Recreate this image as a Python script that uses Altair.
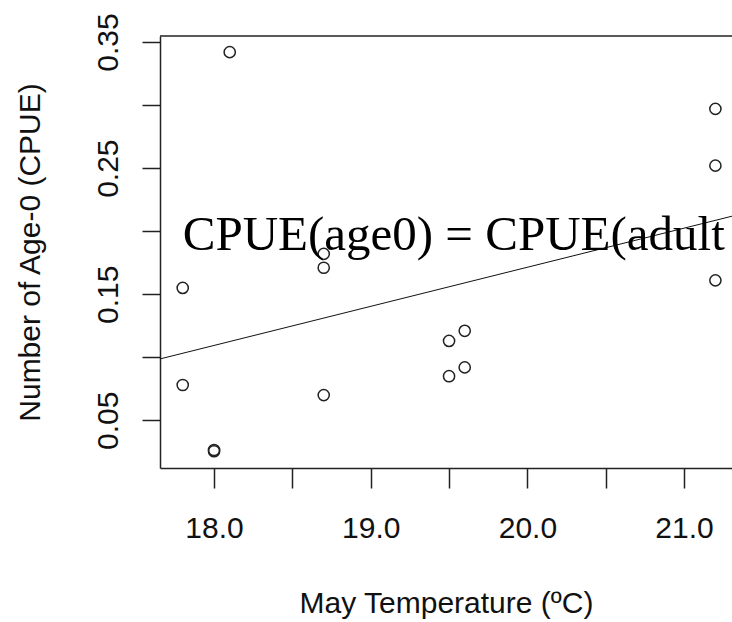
import altair as alt
import pandas as pd

# Observed data (May temperature vs age-0 CPUE)
temps = [17.8, 17.8, 18.0, 18.0, 18.1, 18.7, 18.7, 18.7, 19.5, 19.6, 19.5, 19.6, 21.2, 21.2, 21.2]
cpue = [0.155, 0.078, 0.0255, 0.0265, 0.342, 0.182, 0.171, 0.070, 0.113, 0.121, 0.085, 0.092, 0.297, 0.252, 0.161]

# Fitted line endpoints (abline across the plot region)
fit_x = [17.655, 21.306]
fit_y = [0.0987, 0.2119]

# Annotation
ann_x = [17.8]
ann_y = [0.2]
ann_text = ["CPUE(age0) = CPUE(adult"]

x_dom = [17.655, 21.306]
y_dom = [0.0122, 0.3548]
x_ticks = [18.0, 18.5, 19.0, 19.5, 20.0, 20.5, 21.0]
y_ticks = [0.05, 0.10, 0.15, 0.20, 0.25, 0.30, 0.35]

W, H = 572, 432
LBL_FONT = "Liberation Sans, Arial, sans-serif"
FS = 30

df_pts = pd.DataFrame({"temp": temps, "cpue": cpue})
df_fit = pd.DataFrame({"temp": fit_x, "cpue": fit_y})
df_ann = pd.DataFrame({"temp": ann_x, "cpue": ann_y, "label": ann_text})
df_top = pd.DataFrame({"cpue": [y_dom[1]]})

xs = alt.Scale(domain=x_dom, nice=False, zero=False)
ys = alt.Scale(domain=y_dom, nice=False, zero=False)

xaxis = alt.Axis(
    values=x_ticks,
    labelExpr="datum.value % 1 == 0 ? format(datum.value, '.1f') : ''",
    title="May Temperature (ºC)",
    tickSize=20,
    labelPadding=25,
    labelBaseline="top",
    labelOverlap=False,
    labelFlush=False,
    titleBaseline="alphabetic",
    titleY=144,
    titleX=W / 2,
)
yaxis = alt.Axis(
    values=y_ticks,
    labelExpr="round(datum.value * 100) % 10 == 5 ? format(datum.value, '.2f') : ''",
    title="Number of Age-0 (CPUE)",
    tickSize=18,
    labelAngle=-90,
    labelAlign="center",
    labelBaseline="alphabetic",
    labelPadding=25,
    labelOverlap=False,
    labelFlush=False,
    titleAngle=-90,
    titleAlign="center",
    titleBaseline="alphabetic",
    titleX=-121,
    titleY=H / 2,
)

points = alt.Chart(df_pts).mark_point(
    shape="circle", filled=False, size=125, color="#222", strokeWidth=1.5, opacity=1
).encode(
    x=alt.X("temp:Q", scale=xs, axis=xaxis),
    y=alt.Y("cpue:Q", scale=ys, axis=yaxis),
)

fit = alt.Chart(df_fit).mark_line(color="#111", strokeWidth=1, clip=True).encode(
    x=alt.X("temp:Q", scale=xs),
    y=alt.Y("cpue:Q", scale=ys),
)

top = alt.Chart(df_top).mark_rule(color="#222", strokeWidth=1.5).encode(
    y=alt.Y("cpue:Q", scale=ys),
    x=alt.value(0),
    x2=alt.value(W + 2),
)

ann = alt.Chart(df_ann).mark_text(
    align="left", baseline="alphabetic", dy=19, font="Liberation Serif", fontSize=49, color="black"
).encode(
    x=alt.X("temp:Q", scale=xs),
    y=alt.Y("cpue:Q", scale=ys),
    text="label:N",
)

chart = alt.layer(fit, points, ann, top).properties(
    width=W,
    height=H,
    padding={"left": 160, "top": 36, "right": 0, "bottom": 154},
    autosize=alt.AutoSizeParams(type="none"),
    background="white",
).configure_view(stroke=None).configure_axis(
    grid=False,
    domainColor="#222",
    domainWidth=1.5,
    tickColor="#222",
    tickWidth=1.5,
    labelFont=LBL_FONT,
    labelFontSize=FS,
    labelColor="#111",
    titleFont=LBL_FONT,
    titleFontSize=FS,
    titleFontWeight="normal",
    titleColor="#111",
)

chart.save("out.html", embed_options={"renderer": "svg", "actions": False})
